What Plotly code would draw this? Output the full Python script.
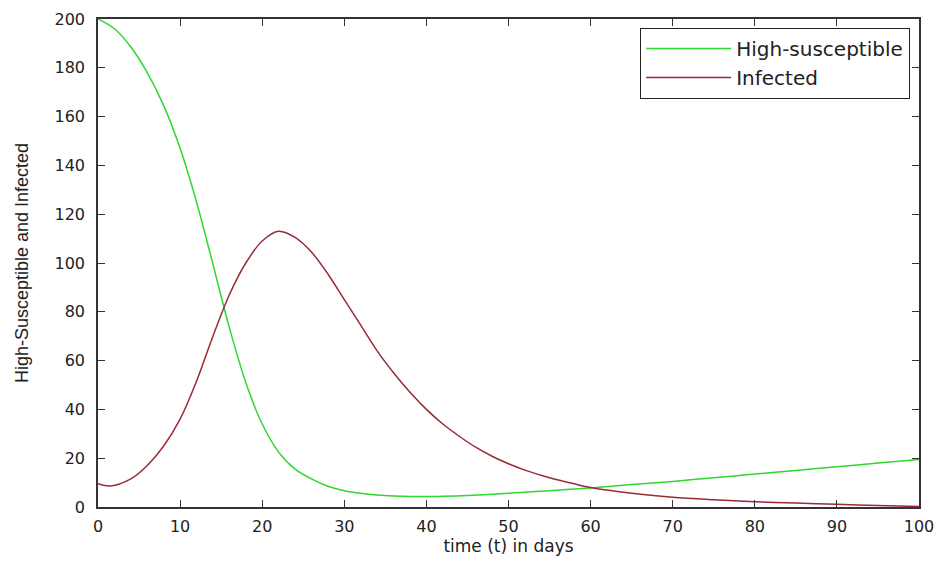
import plotly.graph_objects as go

# time (days) for each series
t_sus = [0, 2, 4, 6, 8, 10, 12, 14, 16, 18, 20, 22, 24, 26, 28, 30, 32, 34, 36, 38,
         40, 42, 45, 48, 50, 55, 60, 65, 70, 75, 80, 85, 90, 95, 100]
high_susceptible = [200, 196, 188.5, 178, 164.5, 147, 125, 99.5, 73.5, 51, 34, 22.5,
                    15.5, 11.5, 8.5, 6.7, 5.6, 4.9, 4.5, 4.3, 4.3, 4.4, 4.7, 5.2, 5.6,
                    6.7, 7.8, 9.2, 10.5, 12, 13.5, 15, 16.5, 18, 19.5]

t_inf = [0, 1.5, 4, 6, 8, 10, 12, 14, 16, 18, 20, 22, 24, 26, 28, 30, 32, 34, 36, 38,
         40, 42, 44, 46, 48, 50, 52, 55, 58, 60, 65, 70, 75, 80, 85, 90, 95, 100]
infected = [9.5, 8.6, 11.5, 17, 25, 36, 51.5, 70, 87, 100, 109, 113, 110.5, 104.5,
            95.5, 85, 74.5, 64, 55, 47, 40, 34, 29, 24.5, 20.8, 17.7, 15.1, 12, 9.5, 8,
            5.6, 4, 3, 2.2, 1.6, 1.1, 0.6, 0.2]

x_ticks = [0, 10, 20, 30, 40, 50, 60, 70, 80, 90, 100]
y_ticks = [0, 20, 40, 60, 80, 100, 120, 140, 160, 180, 200]

fig = go.Figure()
fig.add_trace(go.Scatter(x=t_sus, y=high_susceptible, mode="lines",
                         name="High-susceptible",
                         line=dict(color="#2ed82e", width=1.5, shape="spline", smoothing=0.9)))
fig.add_trace(go.Scatter(x=t_inf, y=infected, mode="lines", name="Infected",
                         line=dict(color="#9a2a36", width=1.5, shape="spline", smoothing=0.9)))

axis_common = dict(showline=True, linecolor="#333333", linewidth=1.5, mirror="ticks",
                   ticks="inside", ticklen=7, tickwidth=1.2, tickcolor="#333333",
                   showgrid=False, zeroline=False, automargin=False,
                   tickfont=dict(family="DejaVu Sans", size=16, color="#222222"))

fig.update_layout(
    width=942, height=561,
    margin=dict(l=90, r=31, t=11, b=62),
    paper_bgcolor="white", plot_bgcolor="white",
    xaxis=dict(range=[0, 100], tickvals=x_ticks, ticklabelstandoff=4,
               title=dict(text="time (t) in days", standoff=4,
                          font=dict(family="DejaVu Sans", size=17, color="#222222")),
               **axis_common),
    yaxis=dict(range=[0, 200], tickvals=y_ticks, ticklabelstandoff=8,
               title=dict(text="High-Susceptible and Infected", standoff=21,
                          font=dict(family="Liberation Sans", size=18, color="#222222")),
               **axis_common),
    legend=dict(x=0.989, y=0.982, xanchor="right", yanchor="top",
                bgcolor="white", bordercolor="#222222", borderwidth=1.2,
                font=dict(family="DejaVu Sans", size=20, color="#222222"),
                itemwidth=85, tracegroupgap=0),
    showlegend=True,
)

fig.write_html("out.html")
